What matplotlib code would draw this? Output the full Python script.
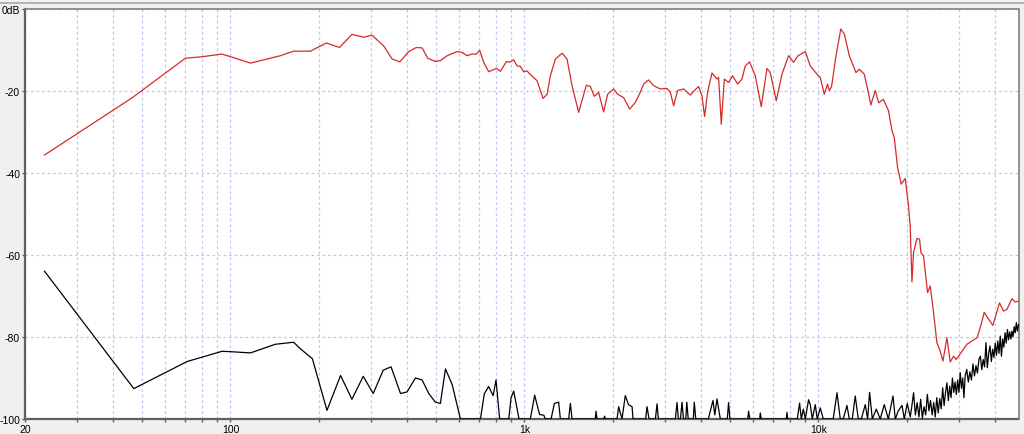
import matplotlib
matplotlib.use("Agg")
import matplotlib.pyplot as plt
from matplotlib.lines import Line2D
from matplotlib import font_manager

# ---------------- data (Hz, dB) ----------------
red_freq = [23.3, 46.4, 70.3, 79, 93.7, 117, 148, 164, 187, 212, 235, 259, 284, 303, 332, 355,
            377, 404, 429, 449, 469, 498, 518, 546, 590, 614, 638, 664, 687, 705, 727, 756,
            803, 829, 869, 891, 920, 945, 969, 995, 1021, 1048, 1105, 1158, 1195, 1226, 1275,
            1344, 1397, 1453, 1530, 1625, 1677, 1730, 1789, 1861, 1920, 2013, 2077, 2177, 2281,
            2385, 2480, 2546, 2647, 2753, 2901, 3058, 3138, 3220, 3322, 3482, 3669, 3786, 3916,
            4021, 4104, 4202, 4349, 4523, 4580, 4678, 4789, 4953, 5110, 5314, 5501, 5644, 5838,
            6105, 6398, 6690, 6865, 7195, 7525, 7925, 8241, 8531, 9033, 9393, 9900, 10160,
            10480, 10750, 10900, 11100, 11490, 11930, 12260, 12750, 13440, 13790, 14340, 14720,
            15090, 15630, 16060, 16640, 17340, 17810, 18140, 18610, 19150, 19760, 20280, 20550,
            20830, 21090, 21660, 22110, 22350, 22810, 23540, 24040, 24670, 25330, 26000, 26550,
            27400, 28120, 28860, 29480, 32060, 34670, 35560, 36700, 37660, 39280, 41370, 42690,
            43840, 45590, 46790, 48010]
red_db = [-35.7, -21.7, -12.1, -11.8, -11.1, -13.3, -11.5, -10.4, -10.4, -8.4, -9.5, -6.3, -7.0,
          -6.5, -9.1, -12.3, -13.0, -10.5, -9.5, -9.6, -12.1, -12.9, -12.7, -11.5, -10.5, -10.7,
          -11.5, -11.1, -11.1, -10.2, -13.1, -15.4, -14.6, -15.3, -12.9, -13.1, -12.5, -14.0,
          -14.1, -15.4, -15.2, -16.1, -17.6, -21.9, -20.9, -16.4, -12.3, -10.9, -12.3, -18.8,
          -25.3, -18.7, -19.0, -21.4, -20.4, -25.2, -20.9, -19.6, -20.9, -21.7, -24.5, -22.9,
          -20.4, -18.4, -17.4, -18.8, -19.6, -19.5, -20.4, -23.7, -20.0, -19.6, -21.1, -20.0,
          -19.0, -21.3, -26.3, -20.4, -15.7, -17.2, -16.8, -28.2, -17.2, -18.0, -16.4, -18.4,
          -17.2, -14.0, -13.0, -16.4, -23.9, -14.6, -15.6, -22.5, -16.0, -11.5, -13.1, -11.5,
          -10.5, -14.0, -16.0, -16.8, -20.9, -18.4, -20.0, -19.0, -11.5, -5.0, -6.2, -11.5,
          -15.6, -14.8, -16.0, -19.6, -23.5, -20.0, -23.0, -22.1, -24.9, -29.8, -31.4, -38.7,
          -42.8, -41.4, -48.1, -53.0, -66.6, -59.5, -56.0, -56.2, -59.5, -60.3, -69.2, -67.6,
          -74.1, -81.4, -83.5, -85.9, -80.2, -86.1, -84.7, -85.5, -81.8, -80.2, -77.8, -74.0,
          -75.3, -77.2, -71.7, -73.7, -73.3, -70.7, -71.5, -71.3]

black_freq = [23.3, 46.9, 71.2, 93.7, 100, 117, 142, 164, 173, 190, 213, 237, 259, 283, 306, 331,
              352, 379, 399, 426, 449, 473, 498, 518, 539, 568, 606, 709, 731, 756, 783, 801, 824,
              885, 901, 920, 959, 1048, 1084, 1127, 1165, 1179, 1233, 1265, 1308, 1326, 1415,
              1434, 1453, 1744, 1753, 1767, 1864, 1875, 1886, 2067, 2093, 2149, 2205, 2261, 2325,
              2343, 2586, 2615, 2656, 2792, 2828, 2857, 3264, 3307, 3342, 3397, 3439, 3478, 3542,
              3570, 3610, 3757, 3786, 3830, 4226, 4295, 4383, 4446, 4523, 4642, 4903, 4953, 5003,
              5757, 5793, 5848, 6324, 6348, 6398, 7783, 7824, 7874, 8485, 8638, 8755, 8894, 9033,
              9269, 9393, 9541, 9768, 9920, 10160, 10400, 11240, 11580, 11880, 12160, 12520,
              12750, 13050, 13360, 13680, 14010, 14450, 14720, 14950, 15270, 15750, 16250, 16770,
              17310, 17960, 18280, 18720, 19270, 19620, 20080, 20560, 20800, 21100, 21400, 21700,
              22000, 22300, 22600, 22900, 23200, 23500, 23800, 24100, 24400, 24700, 25000, 25300,
              25600, 25900, 26200, 26500, 26800, 27100, 27400, 27700, 28000, 28300, 28600, 28900,
              29200, 29500, 29800, 30100, 30400, 30700, 31000, 31300, 31600, 32000, 32400, 32800,
              33200, 33600, 34000, 34400, 34800, 35200, 35600, 36000, 36400, 36800, 37200, 37600,
              38000, 38400, 38800, 39200, 39600, 40000, 40400, 40800, 41200, 41600, 42000, 42400,
              42800, 43200, 43600, 44000, 44400, 44800, 45200, 45600, 46000, 46400, 46800, 47200,
              47600, 48000]
black_db = [-64.0, -92.6, -86.0, -83.5, -83.6, -83.9, -81.8, -81.3, -82.9, -85.3, -97.9, -89.4,
            -95.2, -89.6, -93.8, -88.1, -87.3, -93.8, -93.4, -90.0, -90.5, -93.8, -95.9, -96.2,
            -87.8, -91.6, -100, -100, -93.8, -92.1, -94.3, -90.5, -100, -100, -94.8, -93.2, -100,
            -100, -94.2, -98.9, -99.1, -100, -100, -96.2, -95.9, -100, -100, -96.2, -100, -100,
            -98.1, -100, -100, -99.3, -100, -100, -97.0, -100, -94.3, -96.5, -97.0, -100, -100,
            -97.0, -100, -100, -96.3, -100, -100, -96.0, -100, -100, -95.9, -100, -100, -95.9,
            -100, -100, -95.9, -100, -100, -98.0, -95.5, -99.0, -95.1, -100, -100, -96.0, -100,
            -100, -98.1, -100, -100, -98.5, -100, -100, -98.4, -100, -100, -96.1, -100, -97.6,
            -100, -95.3, -96.5, -100, -96.5, -100, -97.3, -100, -100, -93.6, -100, -100, -96.7,
            -100, -100, -94.4, -100, -100, -96.5, -100, -93.5, -100, -97.6, -100, -96.5, -100,
            -94.4, -100, -98.0, -96.7, -100, -96.2, -99.5, -97.0, -93.6, -99.0, -96.0, -99.5,
            -95.2, -99.8, -97.0, -99.0, -94.0, -98.0, -95.5, -99.0, -96.0, -99.5, -94.8, -98.5,
            -95.0, -97.5, -92.4, -96.7, -93.5, -91.2, -95.5, -92.0, -94.8, -90.0, -93.5, -91.0,
            -94.0, -90.5, -93.5, -88.7, -92.5, -90.0, -94.8, -89.5, -87.9, -91.0, -88.5, -90.5,
            -86.6, -89.5, -87.0, -88.8, -85.5, -84.7, -88.0, -85.5, -87.3, -81.4, -87.5, -84.0,
            -82.2, -86.0, -83.0, -85.0, -81.5, -84.5, -81.0, -84.0, -79.8, -84.7, -80.5, -82.5,
            -79.0, -81.5, -78.2, -80.7, -78.8, -80.5, -78.6, -80.0, -77.5, -79.0, -76.5, -78.6,
            -77.0]

x_major = [20, 100, 1000, 10000]
x_major_labels = ["20", "100", "1k", "10k"]
x_minor = [30, 40, 50, 60, 70, 80, 90, 200, 300, 400, 500, 600, 700, 800, 900,
           2000, 3000, 4000, 5000, 6000, 7000, 8000, 9000, 20000, 30000, 40000]
y_ticks = [0, -20, -40, -60, -80, -100]
y_labels = ["0dB", "-20", "-40", "-60", "-80", "-100"]

# ---------------- figure ----------------
names = {f.name for f in font_manager.fontManager.ttflist}
fam = []
for cand in ["Liberation Sans Narrow", "Liberation Sans", "Arimo"]:
    if cand in names:
        fam.append(cand)
        break
plt.rcParams['font.family'] = fam + ["DejaVu Sans"]

fig = plt.figure(figsize=(10.24, 4.35), dpi=100, facecolor="#f0f0f0")
ax = fig.add_axes([25 / 1024, 15 / 435, 993.5 / 1024, 410.5 / 435])
ax.set_facecolor("white")

ax.plot(black_freq, black_db, color="black", lw=0.9, zorder=3)
ax.plot(red_freq, red_db, color="#d42a2a", lw=0.9, zorder=4)

ax.set_xscale("log")
ax.set_xlim(20, 48000)
ax.set_ylim(-100, 0)

ax.set_xticks(x_major)
ax.set_xticklabels(x_major_labels)
ax.set_xticks(x_minor, minor=True)
ax.set_xticklabels([], minor=True)
ax.set_yticks(y_ticks)
ax.set_yticklabels(y_labels)

grid_kw = dict(color="#c4c4f4", lw=0.9, linestyle=(0, (2.2, 2.2)))
ax.grid(True, which="major", axis="both", **grid_kw)
ax.grid(True, which="minor", axis="x", **grid_kw)
ax.set_axisbelow(True)

ax.tick_params(axis="both", which="both", direction="out", length=2.5, width=1,
               color="#606060", labelsize=7.5, labelcolor="black", pad=1.0)

for side in ["left", "bottom"]:
    ax.spines[side].set_color("#606060")
    ax.spines[side].set_linewidth(1.6)
for side in ["top", "right"]:
    ax.spines[side].set_color("#808080")
    ax.spines[side].set_linewidth(1.2)

fig.add_artist(Line2D([0, 1], [1 - 3.5 / 435, 1 - 3.5 / 435], transform=fig.transFigure,
                      color="#a8a8a8", lw=1.2))

fig.savefig("out.png", dpi=100, facecolor=fig.get_facecolor())
